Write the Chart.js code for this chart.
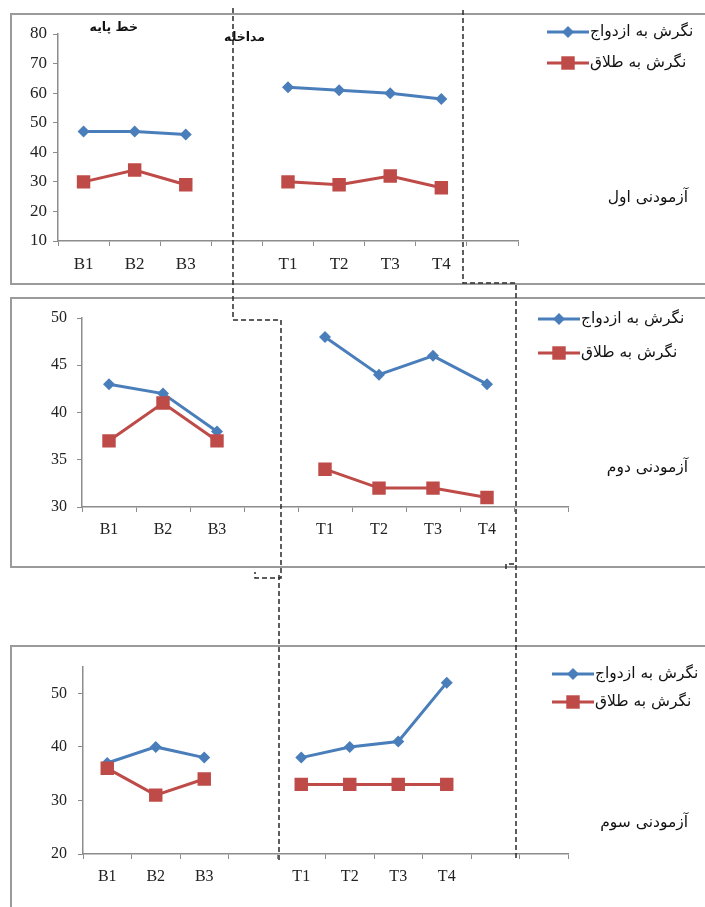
<!DOCTYPE html>
<html>
<head>
<meta charset="utf-8">
<script src="https://cdn.jsdelivr.net/npm/chart.js@4.4.0/dist/chart.umd.min.js"></script>
<style>
    body { margin: 0; background: #fff; width: 705px; height: 907px; overflow: hidden; position: relative; }
    .box { position: absolute; left: 10px; width: 720px; border: 2px solid #9a9a9a; box-sizing: border-box; }
    canvas { position: absolute; left: 10px; }
    svg { position: absolute; left: 0; top: 0; }
</style>
</head>
<body>
<div class="box" style="top:13px;height:272px"></div>
<div class="box" style="top:297px;height:271px"></div>
<div class="box" style="top:645px;height:300px"></div>
<canvas id="chart1" width="695" height="270" style="top:14px"></canvas>
<canvas id="chart2" width="695" height="269" style="top:298px"></canvas>
<canvas id="chart3" width="695" height="261" style="top:646px"></canvas>
<svg width="705" height="907">
    <g fill="none" stroke="#2a2a2a" stroke-width="1.5" stroke-dasharray="5 3">
        <path d="M233,8 V320 H281 V578 H255 V572"/>
        <path d="M279,575 V860"/>
        <path d="M463,10 V283 H516 V860"/>
        <path d="M506,569 V564 H515"/>
    </g>
</svg>
<script>
// ---- data ----
const seriesNames = ['نگرش به ازدواج', 'نگرش به طلاق'];
const subjects = ['آزمودنی اول', 'آزمودنی دوم', 'آزمودنی سوم'];
const phases = ['خط پایه', 'مداخله'];

// subject 1
const categories1 = ['B1', 'B2', 'B3', '', 'T1', 'T2', 'T3', 'T4', ''];
const marriage1 = [47, 47, 46, null, 62, 61, 60, 58, null];
const divorce1 = [30, 34, 29, null, 30, 29, 32, 28, null];
const yTicks1 = [10, 20, 30, 40, 50, 60, 70, 80];

// subject 2
const categories2 = ['B1', 'B2', 'B3', '', 'T1', 'T2', 'T3', 'T4', ''];
const marriage2 = [43, 42, 38, null, 48, 44, 46, 43, null];
const divorce2 = [37, 41, 37, null, 34, 32, 32, 31, null];
const yTicks2 = [30, 35, 40, 45, 50];

// subject 3
const categories3 = ['B1', 'B2', 'B3', '', 'T1', 'T2', 'T3', 'T4', '', ''];
const marriage3 = [37, 40, 38, null, 38, 40, 41, 52, null, null];
const divorce3 = [36, 31, 34, null, 33, 33, 33, 33, null, null];
const yTicks3 = [20, 30, 40, 50];

const BLUE = '#4a7ebb';
const RED = '#be4b48';
const AXIS = '#8c8c8c';
const FA = '"DejaVu Sans", sans-serif';

// Draw diamond / square markers for the legend sample
function marker(ctx, style, x, y, r) {
    ctx.beginPath();
    if (style === 'rectRot') {
        ctx.moveTo(x, y - r); ctx.lineTo(x + r, y); ctx.lineTo(x, y + r); ctx.lineTo(x - r, y);
        ctx.closePath();
    } else {
        const s = r * Math.SQRT1_2;
        ctx.rect(x - s, y - s, 2 * s, 2 * s);
    }
    ctx.fill();
}

// Legend (line + marker + label) and the free texts of each panel
const panelText = {
    id: 'panelText',
    afterDraw(chart, args, o) {
        const ctx = chart.ctx;
        ctx.save();
        chart.data.datasets.forEach((ds, i) => {
            const y = o.legendY[i];
            ctx.strokeStyle = ds.borderColor;
            ctx.lineWidth = 3;
            ctx.beginPath();
            ctx.moveTo(o.legendX, y);
            ctx.lineTo(o.legendX + 42, y);
            ctx.stroke();
            ctx.fillStyle = ds.backgroundColor;
            marker(ctx, ds.pointStyle, o.legendX + 21, y, ds.pointRadius);
            ctx.fillStyle = '#111';
            ctx.font = '15.5px ' + FA;
            ctx.direction = 'rtl';
            ctx.textAlign = 'left';
            ctx.textBaseline = 'middle';
            ctx.fillText(ds.label, o.legendX + 43, y);
        });
        (o.notes || []).forEach(n => {
            ctx.fillStyle = '#111';
            ctx.font = n.font;
            ctx.direction = 'rtl';
            ctx.textAlign = 'right';
            ctx.textBaseline = 'middle';
            ctx.fillText(n.text, n.x, n.y);
        });
        ctx.restore();
    }
};

function makeChart(id, labels, marriage, divorce, yTicks, cfg) {
    return new Chart(document.getElementById(id), {
        type: 'line',
        data: {
            labels: labels,
            datasets: [{
                label: seriesNames[0],
                data: marriage,
                borderColor: BLUE,
                backgroundColor: BLUE,
                borderWidth: 3,
                pointStyle: 'rectRot',
                pointRadius: 6,
                pointBorderWidth: 0,
                order: 1
            }, {
                label: seriesNames[1],
                data: divorce,
                borderColor: RED,
                backgroundColor: RED,
                borderWidth: 3,
                pointStyle: 'rect',
                pointRadius: 9.5,
                pointBorderWidth: 0,
                order: 0
            }]
        },
        options: {
            responsive: false,
            animation: false,
            layout: { padding: { left: 0, top: 20, right: cfg.right, bottom: 0 } },
            plugins: {
                legend: { display: false },
                tooltip: { enabled: false },
                panelText: cfg.text
            },
            scales: {
                x: {
                    offset: true,
                    grid: { offset: true, drawOnChartArea: false, color: AXIS, tickLength: 5 },
                    border: { color: AXIS, width: 1.5 },
                    ticks: { color: '#222', font: { family: 'Liberation Serif', size: cfg.font }, padding: cfg.xPad, maxRotation: 0, autoSkip: false },
                    afterFit: s => { s.height = cfg.xH; }
                },
                y: {
                    min: cfg.min,
                    max: cfg.max,
                    afterBuildTicks: s => { s.ticks = yTicks.map(v => ({ value: v })); },
                    grid: { drawOnChartArea: false, color: AXIS, tickLength: 5 },
                    border: { color: AXIS, width: 1.5 },
                    ticks: { color: '#222', font: { family: 'Liberation Serif', size: cfg.font }, padding: cfg.yPad },
                    afterFit: s => { s.width = cfg.yW; }
                }
            }
        },
        plugins: [panelText]
    });
}

makeChart('chart1', categories1, marriage1, divorce1, yTicks1, {
    min: 10, max: 80, right: 187, xH: 43, yW: 48, font: 17, xPad: 8, yPad: 6,
    text: {
        legendX: 537, legendY: [18, 49],
        notes: [
            { text: subjects[0], x: 678, y: 184, font: '15.5px ' + FA },
            { text: phases[0], x: 128, y: 14, font: 'bold 12.5px ' + FA },
            { text: phases[1], x: 255, y: 24, font: 'bold 12.5px ' + FA }
        ]
    }
});

makeChart('chart2', categories2, marriage2, divorce2, yTicks2, {
    min: 30, max: 50, right: 137, xH: 60, yW: 72, font: 16, xPad: 8, yPad: 10,
    text: {
        legendX: 528, legendY: [21, 55],
        notes: [
            { text: subjects[1], x: 678, y: 170, font: '15.5px ' + FA }
        ]
    }
});

makeChart('chart3', categories3, marriage3, divorce3, yTicks3, {
    min: 20, max: 55, right: 137, xH: 53, yW: 73, font: 16, xPad: 8, yPad: 11,
    text: {
        legendX: 542, legendY: [28, 56],
        notes: [
            { text: subjects[2], x: 678, y: 177, font: '15.5px ' + FA }
        ]
    }
});
</script>
</body>
</html>
